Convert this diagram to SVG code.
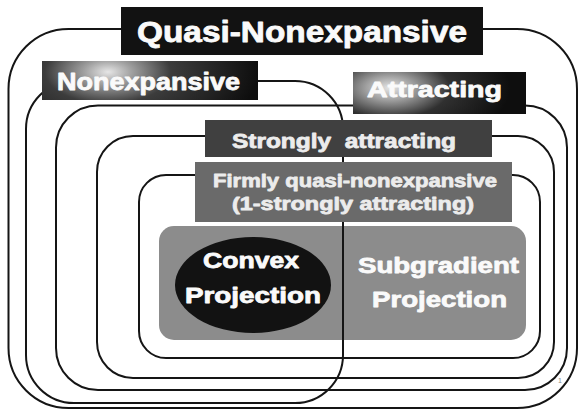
<svg xmlns="http://www.w3.org/2000/svg" width="579" height="410" viewBox="0 0 579 410">
  <defs>
    <radialGradient id="glowNonexp" gradientUnits="userSpaceOnUse" cx="108" cy="72" r="150" gradientTransform="translate(108 72) scale(1 0.5) translate(-108 -72)">
      <stop offset="0" stop-color="#e6e6e6"/>
      <stop offset="0.16" stop-color="#a0a0a0"/>
      <stop offset="0.42" stop-color="#3c3c3c"/>
      <stop offset="1" stop-color="#0e0e0e"/>
    </radialGradient>
    <radialGradient id="glowAttract" gradientUnits="userSpaceOnUse" cx="390" cy="88" r="120" gradientTransform="translate(390 88) scale(1 0.5) translate(-390 -88)">
      <stop offset="0" stop-color="#e6e6e6"/>
      <stop offset="0.2" stop-color="#a0a0a0"/>
      <stop offset="0.5" stop-color="#303030"/>
      <stop offset="1" stop-color="#0e0e0e"/>
    </radialGradient>
    <style>
      .label { font-family: "Liberation Sans", Arial, sans-serif; font-weight: bold; fill: #fafafa; stroke: #fafafa; stroke-width: 0.8; stroke-linejoin: round; }
      .soft { fill: #ececec; stroke: #ececec; }
      .set { fill: none; stroke: #151515; stroke-width: 2; }
    </style>
  </defs>

  <rect width="579" height="410" fill="#ffffff"/>

  <!-- projection operators -->
  <g id="projections">
    <rect x="159" y="226" width="367" height="114" rx="15" fill="#8c8c8c"/>
  </g>
  <g id="convex-projection">
    <ellipse cx="253" cy="285" rx="78" ry="48" fill="#121212"/>
    <text class="label" x="203" y="268" font-size="22" textLength="96" lengthAdjust="spacingAndGlyphs">Convex</text>
    <text class="label" x="185" y="303" font-size="22" textLength="136" lengthAdjust="spacingAndGlyphs">Projection</text>
  </g>
  <g id="subgradient-projection">
    <text class="label" x="358" y="273" font-size="22" textLength="161" lengthAdjust="spacingAndGlyphs">Subgradient</text>
    <text class="label" x="372" y="307" font-size="22" textLength="135" lengthAdjust="spacingAndGlyphs">Projection</text>
  </g>

  <!-- set boundaries -->
  <g id="set-boundaries">
    <rect class="set" x="8.5" y="29" width="568.5" height="379" rx="60"/>
    <rect class="set" x="26" y="81" width="317" height="322" rx="48"/>
    <rect class="set" x="56" y="105.5" width="511" height="284.5" rx="42"/>
    <rect class="set" x="97" y="136" width="457" height="242" rx="36"/>
    <rect class="set" x="139" y="175" width="401" height="183" rx="27"/>
  </g>

  <!-- class labels -->
  <g id="quasi-nonexpansive">
    <rect x="121" y="7" width="362" height="48" fill="#121212"/>
    <text class="label" x="137" y="42" font-size="29" textLength="330" lengthAdjust="spacingAndGlyphs">Quasi-Nonexpansive</text>
  </g>
  <g id="nonexpansive">
    <rect x="42" y="61" width="216" height="39" fill="url(#glowNonexp)"/>
    <text class="label" x="57" y="90" font-size="23" textLength="183" lengthAdjust="spacingAndGlyphs">Nonexpansive</text>
  </g>
  <g id="attracting">
    <rect x="353" y="72" width="173" height="42" fill="url(#glowAttract)"/>
    <text class="label" x="367" y="97" font-size="22" textLength="135" lengthAdjust="spacingAndGlyphs">Attracting</text>
  </g>
  <g id="strongly-attracting">
    <rect x="205" y="120" width="287" height="37" fill="#404040"/>
    <text class="label soft" x="232" y="148" font-size="20" textLength="224" lengthAdjust="spacingAndGlyphs" xml:space="preserve">Strongly  attracting</text>
  </g>
  <g id="firmly-quasi-nonexpansive">
    <rect x="195" y="162" width="317" height="60" fill="#6a6a6a"/>
    <text class="label soft" x="213" y="187" font-size="19" textLength="284" lengthAdjust="spacingAndGlyphs">Firmly quasi-nonexpansive</text>
    <text class="label soft" x="232" y="210" font-size="19" textLength="242" lengthAdjust="spacingAndGlyphs">(1-strongly attracting)</text>
  </g>

  <text x="558" y="383" font-family="Liberation Sans, sans-serif" font-size="7" fill="#8a8a8a">1</text>
</svg>
